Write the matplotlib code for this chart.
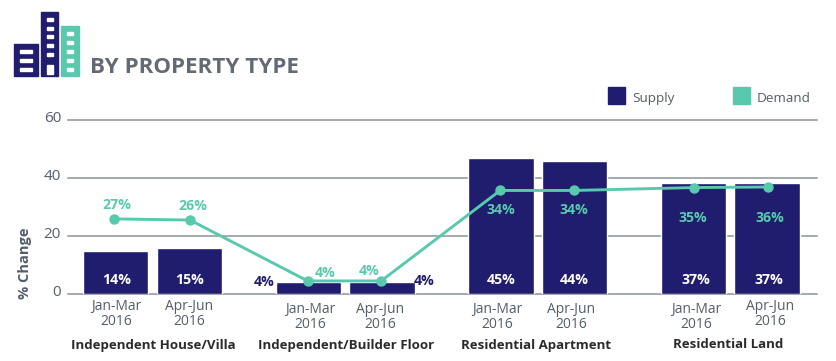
import matplotlib
matplotlib.use('Agg')
import matplotlib.pyplot as plt
from matplotlib.patches import Rectangle
from matplotlib.transforms import ScaledTranslation

plt.rcParams['font.family'] = ['Open Sans', 'DejaVu Sans']

groups = ['Independent House/Villa', 'Independent/Builder Floor', 'Residential Apartment', 'Residential Land']
quarters = ['Jan-Mar\n2016', 'Apr-Jun\n2016'] * 4
supply = [14.8, 15.7, 4.0, 4.0, 46.7, 45.7, 38.1, 38.1]
demand = [25.8, 25.4, 4.4, 4.4, 35.6, 35.6, 36.6, 36.8]
supply_labels = ['14%', '15%', '4%', '4%', '45%', '44%', '37%', '37%']
demand_labels = ['27%', '26%', '4%', '4%', '34%', '34%', '35%', '36%']

NAVY = '#201c6e'
TEAL = '#59c9ae'
GREY = '#535d6b'
W, H = 837, 361

fig = plt.figure(figsize=(W / 100, H / 100), dpi=100)

# chart axes, 68-817 px across, 0 at y=293.7 and 60 at y=119.7
ax = fig.add_axes([68 / W, (H - 293.7) / H, 749 / W, 174 / H])
x = [g * 2.62 + q for g in range(4) for q in range(2)]
ax.set_xlim(-0.65, 9.54)
ax.set_ylim(0, 60)
ax.set_yticks([0, 20, 40, 60])
ax.set_xticks([])
ax.patch.set_visible(False)
for s in ax.spines.values():
    s.set_visible(False)
ax.grid(axis='y', color='#8b929b', lw=1.1, clip_on=False)
ax.set_axisbelow(True)
ax.tick_params(axis='y', length=0, pad=5, labelsize=11, labelcolor=GREY)
up = ScaledTranslation(0, 3 / 72 * 0.72, fig.dpi_scale_trans)
for lab in ax.get_yticklabels():
    lab.set_clip_on(False)
    lab.set_transform(lab.get_transform() + up)

ax.bar(x, supply, width=0.89, color=NAVY, edgecolor='white', lw=1, zorder=2)

# the markers do not sit quite on the bar centres in the original
nudge = [-0.03, 0.01, -0.01, -0.01, -0.01, -0.01, 0.01, 0.015]
line_x = [a + b for a, b in zip(x, nudge)]
ax.plot(line_x, demand, color=TEAL, lw=2.1, marker='o', ms=6.5, zorder=3)

# overlay in pixel coordinates for everything that sits off the scales
ov = fig.add_axes([0, 0, 1, 1], zorder=5)
ov.set_xlim(0, W)
ov.set_ylim(H, 0)
ov.axis('off')

# icon
ov.add_patch(Rectangle((14, 44), 24, 32, color=NAVY))
ov.add_patch(Rectangle((41, 12), 17, 64, color=NAVY))
ov.add_patch(Rectangle((61, 26), 18, 50, color=TEAL))
for wy in [51, 60, 69]:
    ov.add_patch(Rectangle((20, wy - 1.5), 12, 3, color='white'))
for wy in [19.5, 28, 36.5, 45.5, 54]:
    ov.add_patch(Rectangle((47, wy - 1.5), 6, 3, color='white'))
ov.add_patch(Rectangle((47, 65), 6, 9, color='white'))
for wy in [33.5, 42.5, 51.5, 60.5, 69.5]:
    ov.add_patch(Rectangle((67, wy - 1.5), 6, 3, color='white'))

ov.text(90, 73, 'BY PROPERTY TYPE', fontsize=16.1, fontweight='bold', color='#646a75', va='baseline')

# legend
ov.add_patch(Rectangle((608, 87), 17, 17, color=NAVY))
ov.text(632, 102, 'Supply', fontsize=9.7, color=GREY, va='baseline')
ov.add_patch(Rectangle((733, 87), 17, 17, color=TEAL))
ov.text(757, 102, 'Demand', fontsize=9.7, color=GREY, va='baseline')

ov.text(25, 263, '% Change', fontsize=10.5, fontweight='bold', color=GREY, rotation=90, ha='center', va='center')

# value labels
supply_x = [116.5, 190, 264.5, 424.5, 501, 574.5, 696, 769]
supply_y = [284, 284, 286, 285, 284, 284, 284, 284]
supply_c = ['white', 'white', NAVY, NAVY, 'white', 'white', 'white', 'white']
for t, px, py, c in zip(supply_labels, supply_x, supply_y, supply_c):
    ov.text(px, py, t, fontsize=10.2, fontweight='bold', color=c, ha='center', va='baseline')

demand_x = [117, 193, 325, 369, 501, 574, 693, 770]
demand_y = [209, 210, 277, 275, 214, 214, 222, 222]
for t, px, py in zip(demand_labels, demand_x, demand_y):
    ov.text(px, py, t, fontsize=10.2, fontweight='bold', color=TEAL, ha='center', va='baseline')

# quarter and group labels
tick_x = [116, 189, 310, 380, 497, 571, 696, 770]
tick_y = [314, 314, 317, 317, 317, 317, 317, 314]
for t, px, py in zip(quarters, tick_x, tick_y):
    ov.text(px, py, t, fontsize=10, color=GREY, ha='center', va='center', linespacing=0.95)

group_x = [153, 346, 536.5, 728.5]
for t, px in zip(groups, group_x):
    ov.text(px, 348.5, t, fontsize=9.5, fontweight='bold', color='#2b2b2b', ha='center', va='baseline')

fig.savefig('out.png', dpi=100)
